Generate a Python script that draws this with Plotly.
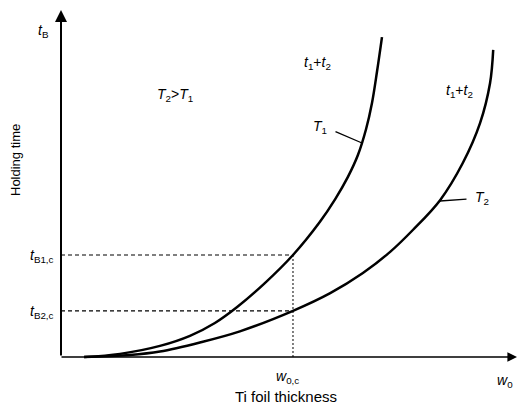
import plotly.graph_objects as go

# Schematic data (thickness units 0-100, time units 0-100)
t1_thickness = [5.1, 13.0, 21.8, 28.4, 33.9, 38.8, 44.9, 51.1, 57.0, 60.4, 63.2, 65.4, 67.2, 68.5, 69.6, 70.7]
t1_time      = [0.0, 0.9, 3.2, 6.1, 9.8, 14.4, 21.3, 29.4, 38.9, 45.5, 51.9, 58.2, 65.7, 73.2, 82.2, 92.2]
t2_thickness = [5.1, 15.2, 21.8, 30.6, 39.4, 51.1, 59.3, 66.5, 72.5, 77.5, 83.5, 88.5, 92.3, 94.5, 95.2]
t2_time      = [0.0, 0.6, 1.6, 4.2, 7.4, 13.3, 18.4, 24.2, 30.3, 36.6, 45.2, 55.9, 67.4, 78.9, 88.5]
w0c = 51.1
tB1c = 29.4
tB2c = 13.3

W, H = 518, 405
X0, Y0 = 61, 357
SX, SY = 4.54, 3.47


def dx(p):
    return (p - X0) / SX


def dy(p):
    return (Y0 - p) / SY


FONT = "Liberation Sans, Arial, sans-serif"
fig = go.Figure()

line = dict(color="black", width=2.5, shape="spline", smoothing=1.0)
fig.add_trace(go.Scatter(x=t1_thickness, y=t1_time, mode="lines", line=line, hoverinfo="skip"))
fig.add_trace(go.Scatter(x=t2_thickness, y=t2_time, mode="lines", line=line, hoverinfo="skip"))

# guide lines
dash = dict(color="black", width=1.1, dash="4px,3px")
fig.add_trace(go.Scatter(x=[0, w0c], y=[tB1c, tB1c], mode="lines", line=dash, hoverinfo="skip"))
fig.add_trace(go.Scatter(x=[0, w0c], y=[tB2c, tB2c], mode="lines", line=dash, hoverinfo="skip"))
fig.add_trace(go.Scatter(x=[w0c, w0c], y=[0, tB1c], mode="lines",
                         line=dict(color="black", width=1, dash="2px,2px"), hoverinfo="skip"))

ann = []
# axes with arrows
ann.append(dict(x=dx(61), y=dy(10), ax=dx(61), ay=dy(357), xref="x", yref="y", axref="x", ayref="y",
                showarrow=True, arrowhead=2, arrowsize=1.2, arrowwidth=2, arrowcolor="black", text=""))
ann.append(dict(x=dx(517), y=dy(357), ax=dx(60), ay=dy(357), xref="x", yref="y", axref="x", ayref="y",
                showarrow=True, arrowhead=2, arrowsize=1.2, arrowwidth=1.6, arrowcolor="black", text=""))
# leader lines
ann.append(dict(x=dx(362), y=dy(143), ax=dx(334), ay=dy(131), xref="x", yref="y", axref="x", ayref="y",
                showarrow=True, arrowhead=0, arrowwidth=1.3, arrowcolor="black", text=""))
ann.append(dict(x=dx(440), y=dy(201), ax=dx(468), ay=dy(199), xref="x", yref="y", axref="x", ayref="y",
                showarrow=True, arrowhead=0, arrowwidth=1.3, arrowcolor="black", text=""))


def txt(t, xp, yp, size=14, xanchor="center", angle=0):
    ann.append(dict(x=dx(xp), y=dy(yp), xref="x", yref="y", text=t, showarrow=False,
                    xanchor=xanchor, yanchor="middle", textangle=angle,
                    font=dict(family=FONT, size=size, color="black")))


txt("<i>t</i><sub>B</sub>", 43, 31, size=14)
txt("<i>T</i><sub>2</sub>><i>T</i><sub>1</sub>", 175, 95, size=14)
txt("<i>t</i><sub>1</sub>+<i>t</i><sub>2</sub>", 317, 63, size=14)
txt("<i>t</i><sub>1</sub>+<i>t</i><sub>2</sub>", 459, 91, size=14)
txt("<i>T</i><sub>1</sub>", 320, 127, size=14)
txt("<i>T</i><sub>2</sub>", 482, 198, size=14)
txt("<i>t</i><sub>B1,c</sub>", 56, 256, size=14, xanchor="right")
txt("<i>t</i><sub>B2,c</sub>", 56, 312, size=14, xanchor="right")
txt("<i>w</i><sub>0,c</sub>", 287, 377, size=14)
txt("<i>w</i><sub>0</sub>", 505, 381, size=14)
txt("Ti foil thickness", 286, 396, size=15)
txt("Holding time", 15, 160, size=13, angle=-90)

fig.update_layout(
    width=W, height=H,
    margin=dict(l=0, r=0, t=0, b=0),
    paper_bgcolor="white", plot_bgcolor="white",
    showlegend=False,
    xaxis=dict(range=[dx(0), dx(W)], visible=False, fixedrange=True),
    yaxis=dict(range=[dy(H), dy(0)], visible=False, fixedrange=True),
    annotations=ann,
)
fig.write_html("out.html")
